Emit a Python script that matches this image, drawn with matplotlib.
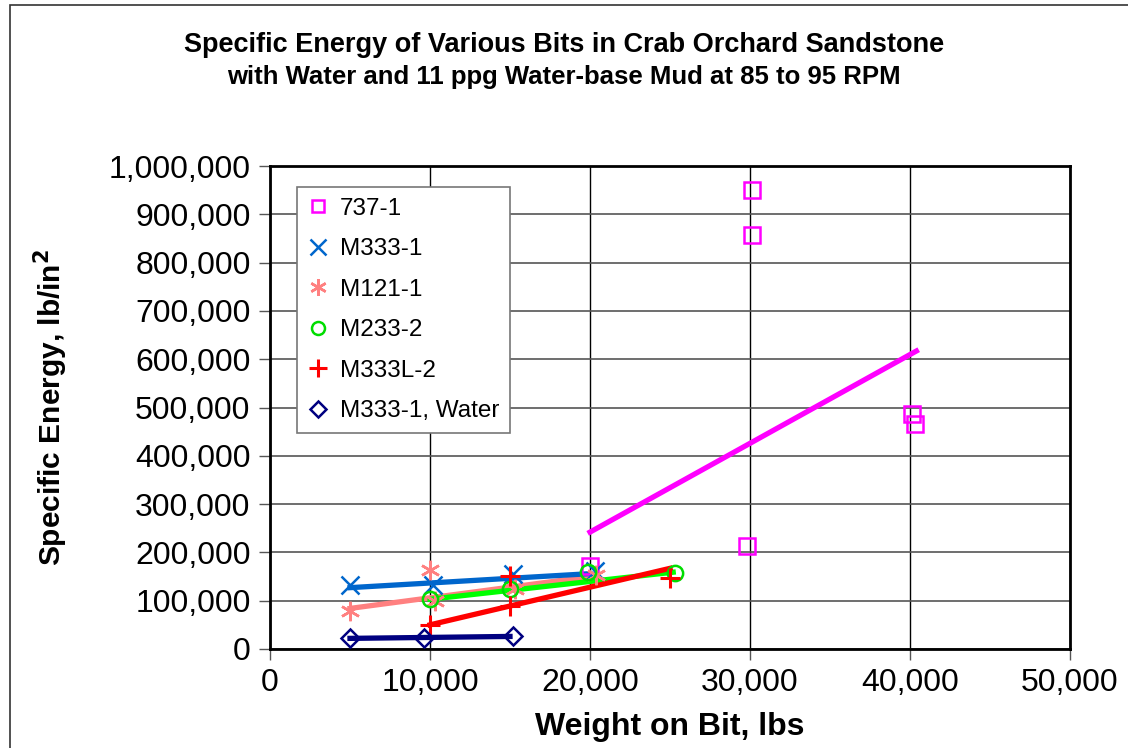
import numpy as np
import matplotlib
matplotlib.use('Agg')
import matplotlib.pyplot as plt
from matplotlib.patches import Rectangle
from matplotlib.ticker import FuncFormatter

plt.rcParams['font.family'] = ['Liberation Sans', 'DejaVu Sans']

# measured points (weight on bit, specific energy)
wob_737 = [20000, 30100, 30100, 40100, 40300, 29800]
se_737 = [172000, 950000, 857000, 486000, 465000, 213000]
wob_m333 = [5000, 10200, 15200, 20300]
se_m333 = [132000, 133000, 155000, 162000]
wob_m121 = [5000, 10000, 10300, 15300, 20400]
se_m121 = [79000, 163000, 100000, 125000, 153000]
wob_m233 = [10000, 15000, 19900, 25300]
se_m233 = [103000, 124000, 160000, 157000]
wob_m333l = [10000, 15000, 15000, 25000]
se_m333l = [50000, 88000, 152000, 147000]
wob_water = [5000, 9600, 15200]
se_water = [22000, 22000, 26000]

# trend lines (start, end)
tr_737_x = [20000, 40400]
tr_737_y = [242000, 617000]
tr_m333_x = [5000, 20000]
tr_m333_y = [127000, 156000]
tr_m121_x = [5000, 20000]
tr_m121_y = [84000, 150000]
tr_m233_x = [10000, 25200]
tr_m233_y = [103000, 159000]
tr_m333l_x = [10000, 25000]
tr_m333l_y = [50000, 167000]
tr_water_x = [5000, 15000]
tr_water_y = [22000, 26000]

fig = plt.figure(figsize=(11.28, 7.48), dpi=100)
fig.patches.append(Rectangle((10 / 1128, -0.1), 1.2, 1.1 - 5 / 748, transform=fig.transFigure,
                             fill=False, edgecolor='#333333', linewidth=1.2))
ax = fig.add_axes([270 / 1128, 99 / 748, 800 / 1128, 483 / 748])

lw = 3.8
ax.plot(tr_water_x, tr_water_y, color='#000080', lw=lw, zorder=3)
ax.plot(tr_m121_x, tr_m121_y, color='#ff8080', lw=lw, zorder=3)
ax.plot(tr_m233_x, tr_m233_y, color='#00ff00', lw=lw, zorder=3)
ax.plot(tr_m333_x, tr_m333_y, color='#0066cc', lw=lw, zorder=3)
ax.plot(tr_m333l_x, tr_m333l_y, color='#ff0000', lw=lw, zorder=3)
ax.plot(tr_737_x, tr_737_y, color='#ff00ff', lw=lw, zorder=3)

ms = 11
mew = 1.8
ax.plot(wob_737, se_737, 's', mfc='none', mec='#ff00ff', ms=ms, mew=mew, ls='none', label='737-1', zorder=4)
ax.plot(wob_m333, se_m333, 'x', color='#0066cc', ms=ms + 2, mew=mew, ls='none', label='M333-1', zorder=4)
ax.plot(wob_m121, se_m121, marker=(6, 2, 0), color='#ff8080', ms=ms + 3, mew=1.8, ls='none', label='M121-1', zorder=4)
ax.plot(wob_m233, se_m233, 'o', mfc='none', mec='#00dd00', ms=ms, mew=mew, ls='none', label='M233-2', zorder=4)
ax.plot(wob_m333l, se_m333l, '+', color='#ff0000', ms=ms + 4, mew=2.2, ls='none', label='M333L-2', zorder=4)
ax.plot(wob_water, se_water, 'D', mfc='none', mec='#000080', ms=ms - 2, mew=mew, ls='none', label='M333-1, Water', zorder=4)

ax.set_xlim(0, 50000)
ax.set_ylim(0, 1000000)
ax.set_xticks(np.arange(0, 50001, 10000))
ax.set_yticks(np.arange(0, 1000001, 100000))
fmt = FuncFormatter(lambda v, p: f'{int(v):,}')
ax.xaxis.set_major_formatter(fmt)
ax.yaxis.set_major_formatter(fmt)
ax.tick_params(labelsize=23, direction='out', length=8, width=1, color='#555555', pad=6)
ax.grid(axis='y', color='#555555', lw=1.2)
ax.grid(axis='x', color='black', lw=1)
ax.set_axisbelow(True)
for s in ax.spines.values():
    s.set_linewidth(2)
    s.set_color('black')

ax.set_xlabel('Weight on Bit, lbs', fontsize=23, fontweight='bold', labelpad=10)
ax.set_ylabel('Specific Energy, lb/in$^{\\mathbf{2}}$', fontsize=21.5, fontweight='bold', labelpad=28)

fig.text(0.5, 1 - 45 / 748, 'Specific Energy of Various Bits in Crab Orchard Sandstone',
         ha='center', va='center', fontsize=19.5, fontweight='bold')
fig.text(0.5, 1 - 77 / 748, 'with Water and 11 ppg Water-base Mud at 85 to 95 RPM',
         ha='center', va='center', fontsize=18.5, fontweight='bold')

leg = ax.legend(loc='upper left', bbox_to_anchor=(27 / 800, 1 - 21 / 483), fontsize=17.5,
                frameon=True, fancybox=False, edgecolor='#777777', framealpha=1,
                handlelength=0.8, handletextpad=0.5, labelspacing=0.76, borderpad=0.45,
                borderaxespad=0, markerscale=0.85)
leg.get_frame().set_linewidth(1.2)

fig.savefig('out.png', dpi=100)
